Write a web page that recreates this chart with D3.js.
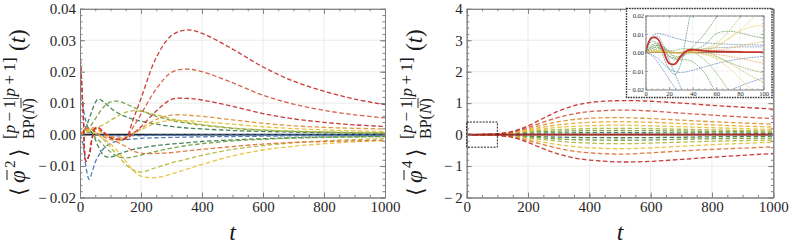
<!DOCTYPE html>
<html>
<head>
<meta charset="utf-8">
<script src="https://cdn.jsdelivr.net/npm/d3@7"></script>
<style>
body { margin: 0; background: #fff; }
svg { display: block; }
svg text { font-family: "Liberation Serif", "Times New Roman", "DejaVu Serif", serif; }
</style>
</head>
<body>
<svg id="chart" width="789" height="249"></svg>
<script>
// ---- data: left panel, <phi^2>
var tLeft = [0, 10, 20, 30, 40, 50, 60, 80, 100, 125, 150, 175, 200, 250, 300, 350, 400, 500, 600, 700, 800, 900, 1000]
var redA = [0.026, 0.008, -0.0085, -0.0065, -0.001, 0.002, 0.0022, 0.0005, -0.001, -0.0015, -0.001, 0.005, 0.0115, 0.0245, 0.0315, 0.0333, 0.0322, 0.0272, 0.0215, 0.017, 0.0138, 0.0113, 0.0095]
var redB = [0.026, 0.008, -0.0085, -0.0065, -0.001, 0.002, 0.0022, 0.0005, -0.001, -0.0015, -0.0012, 0.0025, 0.0065, 0.0145, 0.0198, 0.0208, 0.02, 0.0165, 0.0125, 0.0097, 0.0077, 0.0063, 0.0053]
var redC = [0.026, 0.008, -0.0085, -0.0065, -0.001, 0.002, 0.0022, 0.0005, -0.001, -0.0015, -0.0014, 0.0004, 0.0025, 0.0075, 0.0112, 0.0115, 0.011, 0.009, 0.0067, 0.005, 0.0039, 0.0031, 0.0026]
var orangeUp = [0, 0.001, 0.0015, 0.002, 0.0022, 0.002, 0.0016, 0.0005, -0.0005, -0.001, -0.0008, 0.0005, 0.002, 0.0048, 0.0062, 0.0062, 0.0058, 0.0047, 0.0036, 0.0028, 0.0023, 0.002, 0.0018]
var orangeDown = [0, 0.001, 0.002, 0.0022, 0.0015, 0.0008, 0.0002, -0.0008, -0.0015, -0.0025, -0.0038, -0.0052, -0.0059, -0.006, -0.0057, -0.0052, -0.0047, -0.0038, -0.003, -0.0025, -0.0022, -0.002, -0.0018]
var yellowUp = [0, 0.0005, 0.0012, 0.0018, 0.002, 0.0018, 0.0012, 0, -0.0012, -0.0018, -0.0012, 0.0002, 0.0015, 0.0037, 0.0045, 0.0044, 0.0041, 0.0033, 0.0025, 0.0019, 0.0015, 0.0012, 0.001]
var yellowDown = [0, 0.0005, 0.001, 0.0012, 0.001, 0.0005, -0.0002, -0.0015, -0.003, -0.0055, -0.0085, -0.0115, -0.0132, -0.0137, -0.0125, -0.011, -0.0095, -0.0068, -0.0049, -0.0037, -0.0029, -0.0023, -0.0019]
var limeUp = [0, 0.0003, 0.0008, 0.0013, 0.0017, 0.002, 0.0024, 0.0033, 0.0045, 0.006, 0.0071, 0.0076, 0.0074, 0.0063, 0.005, 0.004, 0.0032, 0.0021, 0.0015, 0.0011, 0.0009, 0.0007, 0.0006]
var limeDown = [0, 0.0008, 0.0015, 0.0018, 0.0016, 0.001, 0.0002, -0.0018, -0.004, -0.0068, -0.0095, -0.0113, -0.0119, -0.0105, -0.009, -0.0078, -0.0066, -0.0047, -0.0035, -0.0026, -0.002, -0.0016, -0.0013]
var greenUp = [0, 0.0005, 0.0012, 0.0022, 0.0035, 0.005, 0.0065, 0.009, 0.0104, 0.0106, 0.0098, 0.0087, 0.0076, 0.0058, 0.0045, 0.0036, 0.003, 0.002, 0.0014, 0.001, 0.0008, 0.0006, 0.0005]
var greenDown = [0, 0.0005, 0.0008, 0.0006, 0, -0.0008, -0.0017, -0.0037, -0.0055, -0.007, -0.0074, -0.0071, -0.0065, -0.0053, -0.0043, -0.0035, -0.0029, -0.002, -0.0015, -0.0011, -0.0009, -0.0007, -0.0006]
var tealUp = [0, 0.0008, 0.0025, 0.005, 0.0078, 0.0102, 0.0113, 0.0102, 0.0085, 0.0068, 0.0057, 0.0049, 0.0043, 0.0033, 0.0026, 0.0021, 0.0018, 0.0013, 0.001, 0.0008, 0.0006, 0.0005, 0.0004]
var tealDown = [0, 0.001, 0.0018, 0.0016, 0.0005, -0.0015, -0.0038, -0.0068, -0.0072, -0.0063, -0.0054, -0.0047, -0.0042, -0.0035, -0.003, -0.0026, -0.0022, -0.0017, -0.0013, -0.001, -0.0008, -0.0007, -0.0006]
var blueUp = [0.012, 0.0085, 0.004, 0.0015, 0.0005, 0.0001, 0, -0.0003, -0.0004, -0.0004, -0.0003, -0.0003, -0.0003, -0.0002, -0.0002, -0.0002, -0.0001, -0.0001, -0.0001, -0.0001, -0.0001, -0.0001, -0.0001]
var blueDown = [0, -0.003, -0.0105, -0.0142, -0.0118, -0.0088, -0.0068, -0.0042, -0.0028, -0.002, -0.0016, -0.0014, -0.0012, -0.001, -0.0009, -0.0008, -0.0007, -0.0006, -0.0005, -0.0004, -0.0004, -0.0003, -0.0003]

// ---- data: right panel, <phi^4>
var tRight = [0, 50, 100, 150, 200, 250, 300, 350, 400, 500, 600, 700, 800, 900, 1000]
var r1Up = [0, 0.003, 0.025, 0.1, 0.28, 0.52, 0.75, 0.92, 1.02, 1.08, 1.06, 1.0, 0.93, 0.87, 0.81]
var r2Up = [0, 0.002, 0.02, 0.09, 0.23, 0.4, 0.55, 0.66, 0.73, 0.78, 0.75, 0.68, 0.62, 0.56, 0.51]
var oUp = [0, 0.002, 0.02, 0.08, 0.19, 0.31, 0.41, 0.48, 0.52, 0.54, 0.51, 0.46, 0.41, 0.37, 0.33]
var yoUp = [0, 0.002, 0.02, 0.07, 0.15, 0.24, 0.31, 0.36, 0.39, 0.41, 0.39, 0.35, 0.31, 0.27, 0.24]
var yUp = [0, 0.002, 0.02, 0.06, 0.12, 0.18, 0.23, 0.26, 0.28, 0.3, 0.28, 0.25, 0.22, 0.19, 0.16]
var ygUp = [0, 0.002, 0.025, 0.07, 0.11, 0.14, 0.16, 0.18, 0.19, 0.2, 0.19, 0.17, 0.15, 0.13, 0.11]
var gUp = [0, 0.002, 0.02, 0.05, 0.08, 0.1, 0.11, 0.12, 0.125, 0.13, 0.125, 0.115, 0.1, 0.09, 0.08]
var dgUp = [0, 0.001, 0.01, 0.025, 0.04, 0.05, 0.055, 0.058, 0.06, 0.06, 0.058, 0.055, 0.05, 0.045, 0.04]
var r1Down = [0, -0.003, -0.025, -0.09, -0.25, -0.45, -0.62, -0.74, -0.81, -0.87, -0.85, -0.79, -0.72, -0.66, -0.6]
var oDown = [0, -0.002, -0.02, -0.08, -0.19, -0.32, -0.44, -0.53, -0.58, -0.62, -0.58, -0.52, -0.47, -0.43, -0.39]
var yDown = [0, -0.002, -0.02, -0.07, -0.15, -0.24, -0.32, -0.38, -0.42, -0.45, -0.42, -0.37, -0.32, -0.28, -0.24]
var ygDown = [0, -0.002, -0.02, -0.06, -0.11, -0.16, -0.21, -0.25, -0.27, -0.29, -0.27, -0.24, -0.21, -0.19, -0.17]
var gDown = [0, -0.002, -0.02, -0.05, -0.08, -0.11, -0.14, -0.16, -0.17, -0.18, -0.17, -0.15, -0.13, -0.12, -0.11]
var dgDown = [0, -0.001, -0.01, -0.03, -0.05, -0.07, -0.08, -0.09, -0.095, -0.1, -0.095, -0.085, -0.07, -0.06, -0.05]

// ---- data: inset (zoom of right panel, t in 0..100)
var tInset = [0, 5, 10, 15, 20, 25, 30, 35, 40, 50, 60, 70, 80, 90, 100]
var inRed = [0, 0.0078, 0.0075, 0.001, -0.0058, -0.0062, -0.002, 0.001, 0.0015, 0.0009, 0.0006, 0.0004, 0.0003, 0.0002, 0.0002]
var inBlue1 = [0, 0.0085, 0.0103, 0.0098, 0.0088, 0.0078, 0.007, 0.0063, 0.0057, 0.0052, 0.0048, 0.0045, 0.0042, 0.0041, 0.004]
var inBlue2 = [0, 0.0075, 0.0088, 0.004, -0.004, -0.0115, -0.019, -0.026, -0.032, -0.04, -0.045, -0.048, -0.05, -0.05, -0.05]
var inBlue3 = [0, -0.001, -0.003, -0.006, -0.0088, -0.0103, -0.0108, -0.0104, -0.0096, -0.0078, -0.006, -0.0046, -0.0035, -0.0027, -0.0021]
var inBlue4 = [0, -0.0015, -0.005, -0.0095, -0.0145, -0.019, -0.0225, -0.025, -0.0262, -0.0262, -0.0238, -0.0208, -0.0182, -0.0158, -0.0138]
var inSlate = [0, 0.003, 0.004, 0.003, 0.001, 0, -0.0005, 0, 0.001, 0.002, 0.0025, 0.0028, 0.003, 0.003, 0.003]
var inTeal = [0, 0.006, 0.005, -0.002, -0.009, -0.012, -0.006, 0.011, 0.026, 0.045, 0.05, 0.05, 0.05, 0.05, 0.05]
var inGreen1 = [0, 0.003, 0.004, 0.002, -0.002, -0.004, -0.003, 0, 0.003, 0.01, 0.019, 0.028, 0.035, 0.04, 0.04]
var inGreenHump = [0, 0.002, 0.003, 0.001, -0.002, -0.003, -0.002, 0, 0.001, 0.004, 0.0102, 0.0115, 0.0106, 0.009, 0.0078]
var inGreenDown1 = [0, 0.004, 0.005, 0.003, 0, -0.003, -0.004, -0.004, -0.005, -0.011, -0.022, -0.03, -0.035, -0.04, -0.04]
var inGreenDown2 = [0, 0.002, 0.003, 0.002, 0, -0.002, -0.002, -0.001, 0, -0.004, -0.011, -0.02, -0.028, -0.034, -0.04]
var inGreenDown3 = [0, 0.001, 0.002, 0.002, 0.001, 0.001, 0.002, 0.002, 0.002, 0.001, -0.002, -0.005, -0.0075, -0.0095, -0.011]
var inLimeUp = [0, 0.001, 0.0015, 0.001, 0, -0.0005, 0, 0.0005, 0.001, 0.002, 0.005, 0.011, 0.019, 0.027, 0.035]
var inLimeDown = [0, 0.0003, 0.0005, 0.0003, 0, -0.0002, -0.0002, 0, 0, -0.0008, -0.0025, -0.0055, -0.009, -0.013, -0.016]
var inYellowUp = [0, 0.0005, 0.001, 0.0008, 0.0003, 0, 0, 0.0003, 0.0006, 0.001, 0.003, 0.007, 0.012, 0.018, 0.024]
var inYellowHump = [0, 0.0005, 0.0008, 0.0006, 0.0002, 0, 0.0001, 0.0003, 0.0006, 0.0012, 0.0035, 0.0075, 0.0115, 0.014, 0.0148]
var inYellowDown = [0, 0.0005, 0.0008, 0.0005, 0, -0.0003, -0.0003, -0.0002, -0.0002, -0.001, -0.0035, -0.008, -0.014, -0.021, -0.028]
var inYellowMild = [0, 0, 0.0002, 0.0002, 0.0001, 0, 0, 0, 0.0002, 0.0006, 0.0012, 0.0022, 0.0035, 0.0048, 0.006]
var inOrangeMild = [0, 0, 0.0001, 0.0001, 0, 0, 0, 0, -0.0001, -0.0004, -0.001, -0.002, -0.0032, -0.0045, -0.0058]

// tick values
var xMajor = [0, 200, 400, 600, 800, 1000]
var xMinor = d3.range(0, 1001, 50)
var yMajorL = [-0.02, -0.01, 0, 0.01, 0.02, 0.03, 0.04]
var yMinorL = d3.range(-0.02, 0.0401, 0.002)
var yMajorR = [-2, -1, 0, 1, 2, 3, 4]
var yMinorR = d3.range(-2, 4.01, 0.2)
var xMajorIn = [0, 20, 40, 60, 80, 100]
var xMinorIn = d3.range(0, 101, 5)
var yMajorIn = [-0.02, -0.01, 0, 0.01, 0.02]
var yMinorIn = d3.range(-0.02, 0.0201, 0.002)

var frameColor = '#808080'
var gridColor = '#ebebeb'
var ink = '#1a1a1a'

var col = {
  red: '#c62f2d', red2: '#d45a45', orange: '#e2913a', orange2: '#de7438',
  yorange: '#e7ad3a', yellow: '#e6c23c', lime: '#b5b83c', green: '#77a043',
  teal: '#3f7d52', blue: '#4a76b0'
}

var svg = d3.select('#chart')

function minusFmt(dec) {
  return function(d) {
    var s = d3.format('.' + dec + 'f')(Math.abs(d))
    return d < -1e-9 ? '\u2212\u2009' + s : s
  }
}

// frame ticks drawn inside, like Mathematica
function ticksOn(g, axisFn, scale, tx, ty, values, size, fmt, o) {
  var a = axisFn(scale).tickValues(values).tickSizeInner(-size).tickSizeOuter(0)
    .tickPadding(o.pad).tickFormat(fmt || '')
  var s = g.append('g').attr('transform', 'translate(' + tx + ',' + ty + ')').call(a)
  s.attr('font-family', null).attr('font-size', o.font)
  s.selectAll('line, path').attr('stroke', frameColor).attr('stroke-width', o.sw)
  s.selectAll('text').attr('fill', '#262626')
}

function drawFrame(g, x, y, o) {
  var L = x.range()[0], R = x.range()[1], B = y.range()[0], T = y.range()[1]
  ticksOn(g, d3.axisBottom, x, 0, B, o.xMinor, o.minor, '', o)
  ticksOn(g, d3.axisTop, x, 0, T, o.xMinor, o.minor, '', o)
  ticksOn(g, d3.axisLeft, y, L, 0, o.yMinor, o.minor, '', o)
  ticksOn(g, d3.axisRight, y, R, 0, o.yMinor, o.minor, '', o)
  ticksOn(g, d3.axisBottom, x, 0, B, o.xMajor, o.major, o.xFmt, o)
  ticksOn(g, d3.axisTop, x, 0, T, o.xMajor, o.major, '', o)
  ticksOn(g, d3.axisLeft, y, L, 0, o.yMajor, o.major, o.yFmt, o)
  ticksOn(g, d3.axisRight, y, R, 0, o.yMajor, o.major, '', o)
}

function drawGrid(g, x, y, xs, ys, w) {
  g.append('g').selectAll('line').data(xs).enter().append('line')
    .attr('x1', d => x(d)).attr('x2', d => x(d))
    .attr('y1', y.range()[0]).attr('y2', y.range()[1])
    .attr('stroke', gridColor).attr('stroke-width', w)
  g.append('g').selectAll('line').data(ys).enter().append('line')
    .attr('y1', d => y(d)).attr('y2', d => y(d))
    .attr('x1', x.range()[0]).attr('x2', x.range()[1])
    .attr('stroke', gridColor).attr('stroke-width', w)
}

function clipFor(id, x, y) {
  svg.append('clipPath').attr('id', id).append('rect')
    .attr('x', x.range()[0]).attr('y', y.range()[1])
    .attr('width', x.range()[1] - x.range()[0]).attr('height', y.range()[0] - y.range()[1])
  return 'url(#' + id + ')'
}

function drawSeries(g, x, y, ts, list, style) {
  var line = d3.line()
    .x(d => x(d[0])).y(d => y(d[1]))
    .curve(d3.curveCatmullRom.alpha(0.5))
  g.selectAll(null).data(list).enter().append('path')
    .attr('d', s => line(ts.map((t, i) => [t, s.values[i]])))
    .attr('fill', 'none')
    .attr('stroke', s => s.color)
    .attr('stroke-width', style.width)
    .attr('stroke-dasharray', style.dash)
    .attr('stroke-opacity', style.opacity)
}

// rotated label <phi^n>_{BP(N)}^{[p-1|p+1]}(t), built piece by piece
function yLabel(x0, y0, power) {
  var g = svg.append('g')
    .attr('transform', 'translate(' + x0 + ',' + y0 + ') rotate(-90)')
    .attr('fill', ink)
  g.append('text').attr('x', 0).attr('y', 1).attr('font-size', 22).text('\u27e8')
  g.append('text').attr('x', 13).attr('font-size', 23).attr('font-style', 'italic').text('\u03c6')
  g.append('line').attr('x1', 16).attr('x2', 26).attr('y1', -18).attr('y2', -18)
    .attr('stroke', ink).attr('stroke-width', 1)
  g.append('text').attr('x', 28).attr('y', -10).attr('font-size', 15).text(power)
  g.append('text').attr('x', 39).attr('y', 1).attr('font-size', 22).text('\u27e9')
  var sup = g.append('text').attr('x', 57).attr('y', -10).attr('font-size', 17)
  sup.append('tspan').text('[')
  sup.append('tspan').attr('font-style', 'italic').text('p')
  sup.append('tspan').text('\u2009\u2212\u20091|')
  sup.append('tspan').attr('font-style', 'italic').text('p')
  sup.append('tspan').text('\u2009+\u20091]')
  var sub = g.append('text').attr('x', 57).attr('y', 9).attr('font-size', 16)
  sub.append('tspan').text('BP(')
  sub.append('tspan').attr('font-style', 'italic').text('N')
  sub.append('tspan').text(')')
  g.append('line').attr('x1', 88).attr('x2', 98).attr('y1', -4).attr('y2', -4)
    .attr('stroke', ink).attr('stroke-width', 0.9)
  var tt = g.append('text').attr('x', 145).attr('font-size', 23)
  tt.append('tspan').text('(')
  tt.append('tspan').attr('font-style', 'italic').text('t')
  tt.append('tspan').text(')')
}

var dashMain = { width: 1.3, dash: '4.5,2.5', opacity: 0.95 }

// ================= left panel =================
var xL = d3.scaleLinear().domain([0, 1000]).range([80, 385])
var yL = d3.scaleLinear().domain([-0.02, 0.04]).range([197.5, 8.8])
var gL = svg.append('g')
drawGrid(gL, xL, yL, [200, 400, 600, 800], [-0.01, 0.01, 0.02, 0.03], 1)
var cL = gL.append('g').attr('clip-path', clipFor('clipL', xL, yL))
cL.append('line').attr('x1', xL(0)).attr('x2', xL(1000)).attr('y1', yL(0)).attr('y2', yL(0))
  .attr('stroke', '#1b2030').attr('stroke-width', 1.8)
drawSeries(cL, xL, yL, tLeft, [
  { values: blueUp, color: col.blue },
  { values: blueDown, color: col.blue },
  { values: tealUp, color: col.teal },
  { values: tealDown, color: col.teal },
  { values: greenUp, color: col.green },
  { values: greenDown, color: col.green },
  { values: limeUp, color: col.lime },
  { values: limeDown, color: col.lime },
  { values: yellowUp, color: col.yellow },
  { values: yellowDown, color: col.yellow },
  { values: orangeUp, color: col.orange },
  { values: orangeDown, color: col.orange2 },
  { values: redC, color: col.red },
  { values: redB, color: col.red2 },
  { values: redA, color: col.red }
], dashMain)
drawFrame(gL, xL, yL, {
  xMajor: xMajor, xMinor: xMinor, yMajor: yMajorL, yMinor: yMinorL,
  xFmt: d3.format('d'), yFmt: minusFmt(2), major: 5, minor: 2.5, pad: 4, font: 15, sw: 1
})
yLabel(25, 196, '2')
svg.append('text').attr('x', 232.5).attr('y', 240).attr('text-anchor', 'middle')
  .attr('font-style', 'italic').attr('font-size', 24).attr('fill', ink).text('t')

// ================= right panel =================
var xR = d3.scaleLinear().domain([0, 1000]).range([466.7, 773.3])
var yR = d3.scaleLinear().domain([-2, 4]).range([197.5, 8.8])
var gR = svg.append('g')
drawGrid(gR, xR, yR, [200, 400, 600, 800], [-1, 1, 2, 3], 1)
var cR = gR.append('g').attr('clip-path', clipFor('clipR', xR, yR))
drawSeries(cR, xR, yR, tRight, [
  { values: dgUp, color: col.teal }, { values: dgDown, color: col.teal },
  { values: gUp, color: col.green }, { values: gDown, color: col.green },
  { values: ygUp, color: col.lime }, { values: ygDown, color: col.lime },
  { values: yUp, color: col.yellow }, { values: yDown, color: col.yellow },
  { values: yoUp, color: col.yorange },
  { values: oUp, color: col.orange }, { values: oDown, color: col.orange2 },
  { values: r2Up, color: col.red2 },
  { values: r1Up, color: col.red }, { values: r1Down, color: col.red }
], dashMain)
cR.append('line').attr('x1', xR(0)).attr('x2', xR(1000)).attr('y1', yR(0)).attr('y2', yR(0))
  .attr('stroke', '#2a1a1a').attr('stroke-width', 1)
drawSeries(cR, xR, yR, tInset, [{ values: inRed, color: '#a8302a' }], { width: 2.2, dash: null, opacity: 0.9 })
cR.append('line').attr('x1', xR(100)).attr('x2', xR(1000)).attr('y1', yR(0)).attr('y2', yR(0))
  .attr('stroke', '#a8302a').attr('stroke-width', 2.2).attr('stroke-opacity', 0.85)
// dotted box marking the zoomed region
svg.append('rect').attr('x', xR(0)).attr('y', yR(0.4))
  .attr('width', xR(100) - xR(0)).attr('height', yR(-0.4) - yR(0.4))
  .attr('fill', 'none').attr('stroke', '#222').attr('stroke-width', 1).attr('stroke-dasharray', '2,1.2')
drawFrame(gR, xR, yR, {
  xMajor: xMajor, xMinor: xMinor, yMajor: yMajorR, yMinor: yMinorR,
  xFmt: d3.format('d'), yFmt: minusFmt(0), major: 5, minor: 2.5, pad: 4, font: 15, sw: 1
})
yLabel(422, 196, '4')
svg.append('text').attr('x', 620).attr('y', 240).attr('text-anchor', 'middle')
  .attr('font-style', 'italic').attr('font-size', 24).attr('fill', ink).text('t')

// ================= inset =================
svg.append('rect').attr('x', 626.5).attr('y', 8.5).attr('width', 145.5).attr('height', 89)
  .attr('fill', '#fff').attr('stroke', '#333').attr('stroke-width', 1.4).attr('stroke-dasharray', '1.6,1')
var xI = d3.scaleLinear().domain([0, 100]).range([645.5, 763.5])
var yI = d3.scaleLinear().domain([-0.02, 0.02]).range([89.5, 15.5])
var gI = svg.append('g')
drawGrid(gI, xI, yI, [20, 40, 60, 80], [-0.01, 0.01], 0.6)
var cI = gI.append('g').attr('clip-path', clipFor('clipI', xI, yI))
cI.append('line').attr('x1', xI(0)).attr('x2', xI(100)).attr('y1', yI(0)).attr('y2', yI(0))
  .attr('stroke', '#777').attr('stroke-width', 0.9)
drawSeries(cI, xI, yI, tInset, [
  { values: inBlue1, color: '#5a7fb5' }, { values: inBlue2, color: '#5a7fb5' },
  { values: inBlue3, color: '#5a7fb5' }, { values: inBlue4, color: '#5a7fb5' },
  { values: inSlate, color: '#6f86a8' }, { values: inTeal, color: '#4b8a78' },
  { values: inGreen1, color: '#5c9148' }, { values: inGreenHump, color: '#5c9148' },
  { values: inGreenDown1, color: '#5c9148' }, { values: inGreenDown2, color: '#7aa34a' },
  { values: inGreenDown3, color: '#7aa34a' }, { values: inLimeUp, color: '#b4bc46' },
  { values: inLimeDown, color: '#b4bc46' }, { values: inYellowUp, color: '#e8c64a' },
  { values: inYellowHump, color: '#e8c64a' }, { values: inYellowDown, color: '#e8c64a' },
  { values: inYellowMild, color: '#eab24a' }, { values: inOrangeMild, color: '#e9a04a' }
], { width: 0.8, dash: '1.8,0.8', opacity: 0.85 })
drawSeries(cI, xI, yI, tInset, [{ values: inRed, color: '#c8352c' }], { width: 1.8, dash: null, opacity: 1 })
drawFrame(gI, xI, yI, {
  xMajor: xMajorIn, xMinor: xMinorIn, yMajor: yMajorIn, yMinor: yMinorIn,
  xFmt: d3.format('d'), yFmt: minusFmt(2), major: 2.5, minor: 1.3, pad: 1.5, font: 6.5, sw: 0.6
})
</script>
</body>
</html>
